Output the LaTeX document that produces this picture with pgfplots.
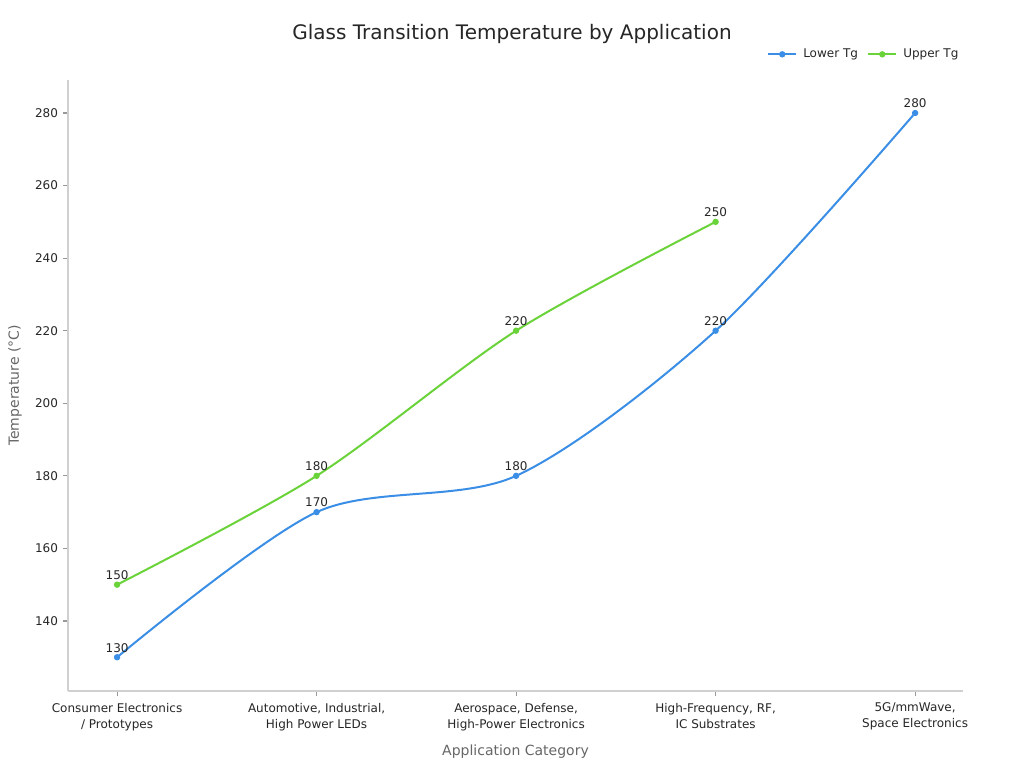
\documentclass[border=0pt]{standalone}
\usepackage{pgfplots}
\pgfplotsset{compat=1.18}
\usepackage{fontspec}
\setmainfont{DejaVu Sans}
\definecolor{lowc}{HTML}{3B8EE5}
\definecolor{upc}{HTML}{6AD33A}
\definecolor{axc}{HTML}{D0D0D0}
\definecolor{tickc}{HTML}{999999}
\definecolor{txt}{HTML}{262626}
\definecolor{lab}{HTML}{666666}

\begin{document}
\begin{tikzpicture}[x=1pt,y=1pt]
\path[use as bounding box] (-51,-57.75) rectangle (717,518.25);
\begin{axis}[
  at={(0,0)}, anchor=south west, scale only axis,
  width=671.25pt, height=458.25pt,
  xmin=-0.246, xmax=4.24, ymin=120.7, ymax=289.1,
  axis lines*=left,
  axis line style={axc, line width=0.8pt, -},
  tick style={tickc, line width=0.8pt},
  tick align=outside, major tick length=4pt,
  xtick={0,...,4},
  xticklabels={Consumer Electronics\\/ Prototypes, {Automotive, Industrial,\\High Power LEDs}, {Aerospace, Defense,\\High-Power Electronics}, {High-Frequency, RF,\\IC Substrates}, {5G/mmWave,\\Space Electronics}},
  xticklabel style={align=center, font=\fontsize{9}{12}\selectfont, text=txt, yshift=-1.5pt},
  ytick={140,160,...,280},
  yticklabel style={font=\fontsize{9}{11}\selectfont, text=txt},
  /pgf/number format/assume math mode=true,
  ylabel={Temperature (°C)},
  xlabel={Application Category},
  label style={font=\fontsize{10.5}{12}\selectfont, text=lab},
  xlabel style={yshift=-4pt},
  ylabel style={yshift=3pt},
  legend style={draw=none, fill=none, font=\fontsize{9}{11}\selectfont, text=txt,
    at={(1.0026,1.042)}, anchor=east, /tikz/every even column/.append style={column sep=5pt}},
  legend columns=2,
  legend image code/.code={\draw[mark repeat=2, mark phase=2] plot coordinates {(0pt,0pt) (10.5pt,0pt) (21pt,0pt)}; \path (23.5pt,0pt);},
  nodes near coords,
  every node near coord/.append style={font=\fontsize{9}{11}\selectfont, text=txt, anchor=south, inner sep=3pt},
]
\addplot[lowc, line width=1.5pt, smooth, mark=*, mark size=1.6pt] coordinates {(0,130) (1,170) (2,180) (3,220) (4,280)};
\addlegendentry{Lower Tg}
\addplot[upc, line width=1.5pt, smooth, mark=*, mark size=1.6pt] coordinates {(0,150) (1,180) (2,220) (3,250)};
\addlegendentry{Upper Tg}
\end{axis}
\node[font=\fontsize{15}{18}\selectfont, text=txt] at (333,493) {Glass Transition Temperature by Application};
\end{tikzpicture}
\end{document}
